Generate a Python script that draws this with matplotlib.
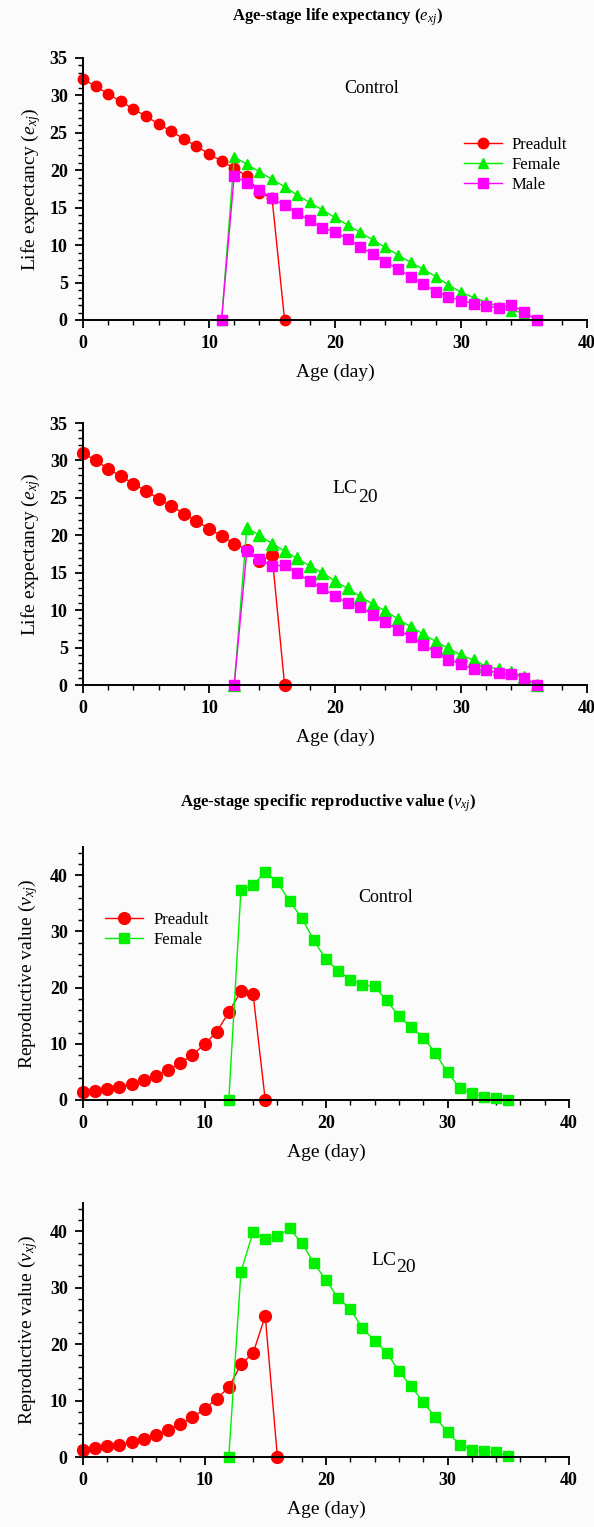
import matplotlib
matplotlib.use("Agg")
import matplotlib.pyplot as plt
from matplotlib.ticker import MultipleLocator

plt.rcParams['font.family'] = ['Liberation Serif', 'DejaVu Serif']
plt.rcParams['mathtext.fontset'] = 'custom'
plt.rcParams['mathtext.rm'] = 'Liberation Serif'
plt.rcParams['mathtext.it'] = 'Liberation Serif:italic'
plt.rcParams['mathtext.bf'] = 'Liberation Serif:bold:italic'

# life expectancy, control
ctrl_pre_age = list(range(0, 17))
ctrl_pre_e = [32.2, 31.2, 30.2, 29.2, 28.2, 27.2, 26.2, 25.2, 24.2, 23.2, 22.2,
              21.2, 20.3, 19.2, 17.0, 16.3, 0.0]
ctrl_adult_age = list(range(11, 37))
ctrl_fem_e = [0.0, 21.8, 20.8, 19.8, 18.8, 17.8, 16.7, 15.7, 14.7, 13.7, 12.7, 11.7,
              10.7, 9.7, 8.7, 7.7, 6.8, 5.8, 4.7, 3.7, 3.0, 2.4, 1.8, 1.2, 1.0, 0.0]
ctrl_male_e = [0.0, 19.3, 18.3, 17.3, 16.3, 15.3, 14.3, 13.3, 12.3, 11.8, 10.8, 9.8,
               8.8, 7.8, 6.8, 5.8, 4.8, 3.8, 3.1, 2.6, 2.2, 1.9, 1.6, 2.0, 1.1, 0.0]

# life expectancy, LC20
lc_pre_age = list(range(0, 17))
lc_pre_e = [31.0, 30.0, 28.9, 27.9, 26.9, 25.9, 24.9, 23.9, 22.9, 21.9, 20.9,
            19.9, 18.9, 18.1, 16.5, 17.4, 0.0]
lc_adult_age = list(range(12, 37))
lc_fem_e = [0.0, 21.0, 20.0, 18.9, 17.9, 16.9, 15.9, 15.0, 13.9, 12.9, 11.8, 10.8,
            9.9, 8.8, 7.8, 6.8, 5.8, 4.9, 4.0, 3.3, 2.5, 2.1, 1.8, 1.1, 0.0]
lc_male_e = [0.0, 17.9, 16.8, 15.9, 16.0, 14.9, 13.9, 12.9, 11.9, 10.9, 10.4, 9.4,
             8.4, 7.4, 6.4, 5.4, 4.4, 3.4, 2.8, 2.1, 2.0, 1.6, 1.5, 1.0, 0.0]

# reproductive value, control
ctrl_pre_v_age = list(range(0, 16))
ctrl_pre_v = [1.35, 1.6, 1.9, 2.35, 2.8, 3.5, 4.3, 5.35, 6.5, 8.0, 9.9, 12.1,
              15.6, 19.4, 18.8, 0.0]
ctrl_fem_v_age = list(range(12, 36))
ctrl_fem_v = [0.0, 37.4, 38.2, 40.6, 38.7, 35.4, 32.4, 28.4, 25.0, 23.0, 21.4, 20.5,
              20.2, 17.7, 14.9, 13.0, 11.1, 8.4, 4.9, 2.2, 1.2, 0.5, 0.3, 0.05]

# reproductive value, LC20
lc_pre_v_age = list(range(0, 17))
lc_pre_v = [1.3, 1.6, 1.9, 2.2, 2.6, 3.2, 3.9, 4.8, 5.8, 7.0, 8.5, 10.3, 12.35,
            16.4, 18.4, 25.0, 0.0]
lc_fem_v_age = list(range(12, 36))
lc_fem_v = [0.0, 32.8, 39.9, 38.6, 39.1, 40.5, 37.9, 34.4, 31.3, 28.2, 26.2, 22.8,
            20.6, 18.5, 15.2, 12.6, 9.7, 7.1, 4.4, 2.2, 1.3, 1.0, 0.8, 0.1]

RED = '#ff0000'
GREEN = '#00f000'
MAG = '#ff00ff'

W, H = 594, 1527
fig = plt.figure(figsize=(W / 100, H / 100), dpi=100)
fig.patch.set_facecolor('#fbfbfb')


def make_ax(left, top, right, bottom):
    ax = fig.add_axes([left / W, 1 - bottom / H, (right - left) / W, (bottom - top) / H])
    ax.set_facecolor('none')
    ax.spines['top'].set_visible(False)
    ax.spines['right'].set_visible(False)
    ax.spines['left'].set_linewidth(1.4)
    ax.spines['bottom'].set_linewidth(1.4)
    ax.set_xlim(0, 40)
    ax.xaxis.set_major_locator(MultipleLocator(10))
    ax.xaxis.set_minor_locator(MultipleLocator(2))
    ax.tick_params(which='major', direction='out', length=6, width=1.3, pad=5,
                   labelsize=13)
    ax.tick_params(which='minor', direction='out', length=3.5, width=1.0)
    ax.set_xlabel('Age (day)', fontsize=14, labelpad=8)
    return ax


def bold_ticks(ax):
    for lab in ax.get_xticklabels() + ax.get_yticklabels():
        lab.set_fontweight('bold')


def lc_label(ax, x, y_lc, y_sub):
    ax.text(x, y_lc, 'LC', fontsize=14, ha='right', va='center')
    ax.text(x, y_sub, '20', fontsize=14, ha='left', va='center')


# ---- life expectancy ----
fig.text(337 / W, 1 - 17 / H, r'Age-stage life expectancy ($e_{xj}$)',
         ha='center', va='center', fontsize=12, fontweight='bold')

ax1 = make_ax(83, 58, 587, 320)
ax1.set_ylim(0, 35)
ax1.yaxis.set_major_locator(MultipleLocator(5))
ax1.yaxis.set_minor_locator(MultipleLocator(1))
ax1.plot(ctrl_pre_age, ctrl_pre_e, '-o', color=RED, lw=1, ms=7.5, label='Preadult', clip_on=False)
ax1.plot(ctrl_adult_age, ctrl_fem_e, '-^', color=GREEN, lw=1, ms=7.5, label='Female', clip_on=False)
ax1.plot(ctrl_adult_age, ctrl_male_e, '-s', color=MAG, lw=1, ms=6.5, label='Male', clip_on=False)
ax1.set_ylabel(r'Life expectancy ($e_{xj}$)', fontsize=14, labelpad=5)
ax1.text(22.9, 30.9, 'Control', fontsize=13, ha='center', va='center')
ax1.legend(loc='upper left', bbox_to_anchor=(0.755, 0.70), frameon=False,
           fontsize=12, handlelength=2.3, handletextpad=0.6, labelspacing=0.25,
           borderpad=0, borderaxespad=0)
bold_ticks(ax1)

ax2 = make_ax(83, 423, 587, 685)
ax2.set_ylim(0, 35)
ax2.yaxis.set_major_locator(MultipleLocator(5))
ax2.yaxis.set_minor_locator(MultipleLocator(1))
ax2.plot(lc_pre_age, lc_pre_e, '-o', color=RED, lw=1, ms=8.5, clip_on=False)
ax2.plot(lc_adult_age, lc_fem_e, '-^', color=GREEN, lw=1, ms=8.5, clip_on=False)
ax2.plot(lc_adult_age, lc_male_e, '-s', color=MAG, lw=1, ms=7.5, clip_on=False)
ax2.set_ylabel(r'Life expectancy ($e_{xj}$)', fontsize=14, labelpad=5)
lc_label(ax2, 21.8, 26.2, 25.0)
bold_ticks(ax2)

# ---- reproductive value ----
fig.text(328 / W, 1 - 803 / H, r'Age-stage specific reproductive value ($v_{xj}$)',
         ha='center', va='center', fontsize=12, fontweight='bold')

ax3 = make_ax(83, 847, 569, 1100)
ax3.set_ylim(0, 45)
ax3.yaxis.set_major_locator(MultipleLocator(10))
ax3.yaxis.set_minor_locator(MultipleLocator(2))
ax3.plot(ctrl_pre_v_age, ctrl_pre_v, '-o', color=RED, lw=1, ms=8.5, label='Preadult', clip_on=False)
ax3.plot(ctrl_fem_v_age, ctrl_fem_v, '-s', color=GREEN, lw=1, ms=7, label='Female', clip_on=False)
ax3.set_ylabel(r'Reproductive value ($v_{xj}$)', fontsize=14, labelpad=7)
ax3.text(24.9, 36.1, 'Control', fontsize=13, ha='center', va='center')
ax3.legend(loc='upper left', bbox_to_anchor=(0.045, 0.745), frameon=False,
           fontsize=12, handlelength=2.3, handletextpad=0.6, labelspacing=0.25,
           borderpad=0, borderaxespad=0)
bold_ticks(ax3)

ax4 = make_ax(83, 1203, 569, 1457)
ax4.set_ylim(0, 45)
ax4.yaxis.set_major_locator(MultipleLocator(10))
ax4.yaxis.set_minor_locator(MultipleLocator(2))
ax4.plot(lc_pre_v_age, lc_pre_v, '-o', color=RED, lw=1, ms=8.5, clip_on=False)
ax4.plot(lc_fem_v_age, lc_fem_v, '-s', color=GREEN, lw=1, ms=7, clip_on=False)
ax4.set_ylabel(r'Reproductive value ($v_{xj}$)', fontsize=14, labelpad=7)
lc_label(ax4, 25.8, 34.8, 33.5)
bold_ticks(ax4)

fig.savefig('out.png', dpi=100, facecolor=fig.get_facecolor())
